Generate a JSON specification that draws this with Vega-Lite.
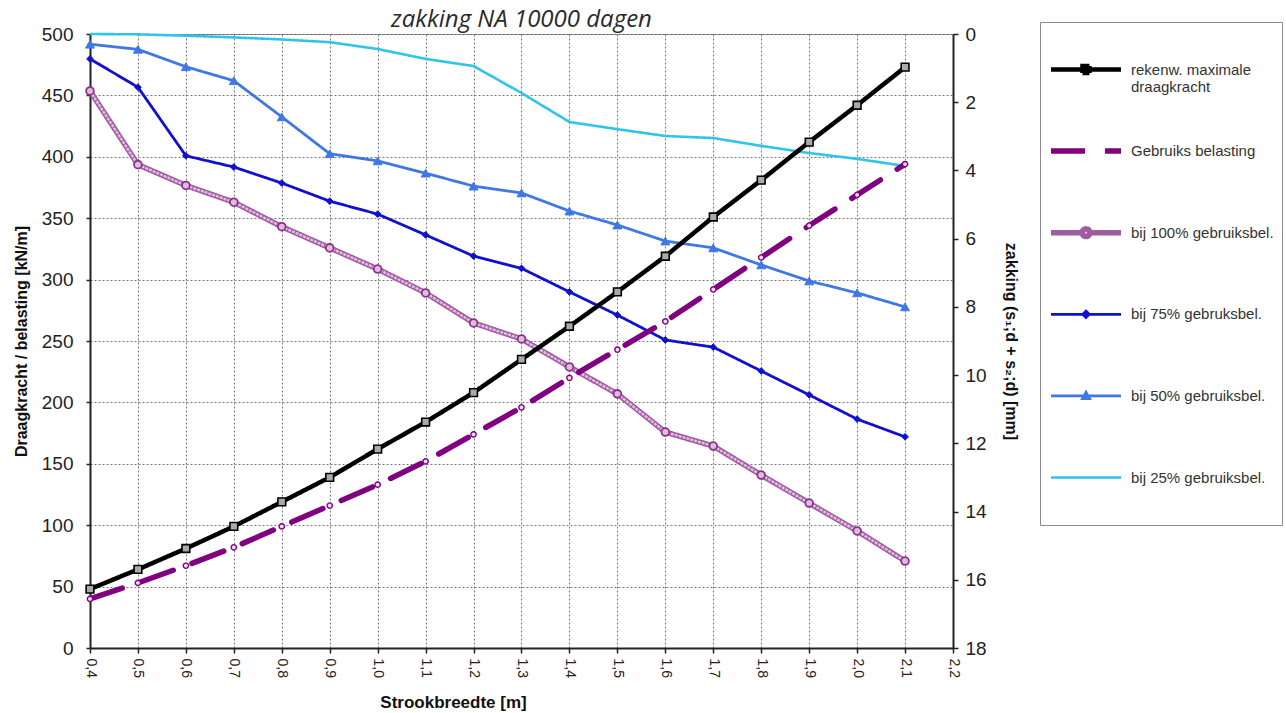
{
  "$schema": "https://vega.github.io/schema/vega-lite/v6.json",
  "width": 863,
  "height": 614,
  "autosize": {"type": "none"},
  "padding": {"left": 90, "top": 34, "right": 333, "bottom": 65},
  "background": "white",
  "title": {
    "text": "zakking NA 10000 dagen",
    "font": "Open Sans",
    "fontSize": 24,
    "fontStyle": "italic",
    "fontWeight": "normal",
    "color": "#2a2a2a",
    "anchor": "middle",
    "frame": "group",
    "offset": -10
  },
  "datasets": {
    "belasting": [
      {"breedte": 0.4, "reeks": "rekenw. maximale draagkracht", "waarde": 48},
      {"breedte": 0.5, "reeks": "rekenw. maximale draagkracht", "waarde": 64},
      {"breedte": 0.6, "reeks": "rekenw. maximale draagkracht", "waarde": 81},
      {"breedte": 0.7, "reeks": "rekenw. maximale draagkracht", "waarde": 99},
      {"breedte": 0.8, "reeks": "rekenw. maximale draagkracht", "waarde": 119},
      {"breedte": 0.9, "reeks": "rekenw. maximale draagkracht", "waarde": 139},
      {"breedte": 1.0, "reeks": "rekenw. maximale draagkracht", "waarde": 162},
      {"breedte": 1.1, "reeks": "rekenw. maximale draagkracht", "waarde": 184},
      {"breedte": 1.2, "reeks": "rekenw. maximale draagkracht", "waarde": 208},
      {"breedte": 1.3, "reeks": "rekenw. maximale draagkracht", "waarde": 235},
      {"breedte": 1.4, "reeks": "rekenw. maximale draagkracht", "waarde": 262},
      {"breedte": 1.5, "reeks": "rekenw. maximale draagkracht", "waarde": 290},
      {"breedte": 1.6, "reeks": "rekenw. maximale draagkracht", "waarde": 319},
      {"breedte": 1.7, "reeks": "rekenw. maximale draagkracht", "waarde": 351},
      {"breedte": 1.8, "reeks": "rekenw. maximale draagkracht", "waarde": 381},
      {"breedte": 1.9, "reeks": "rekenw. maximale draagkracht", "waarde": 412},
      {"breedte": 2.0, "reeks": "rekenw. maximale draagkracht", "waarde": 442},
      {"breedte": 2.1, "reeks": "rekenw. maximale draagkracht", "waarde": 473},
      {"breedte": 0.4, "reeks": "Gebruiks belasting", "waarde": 40},
      {"breedte": 0.5, "reeks": "Gebruiks belasting", "waarde": 53},
      {"breedte": 0.6, "reeks": "Gebruiks belasting", "waarde": 67},
      {"breedte": 0.7, "reeks": "Gebruiks belasting", "waarde": 82},
      {"breedte": 0.8, "reeks": "Gebruiks belasting", "waarde": 99},
      {"breedte": 0.9, "reeks": "Gebruiks belasting", "waarde": 116},
      {"breedte": 1.0, "reeks": "Gebruiks belasting", "waarde": 133},
      {"breedte": 1.1, "reeks": "Gebruiks belasting", "waarde": 152},
      {"breedte": 1.2, "reeks": "Gebruiks belasting", "waarde": 174},
      {"breedte": 1.3, "reeks": "Gebruiks belasting", "waarde": 196},
      {"breedte": 1.4, "reeks": "Gebruiks belasting", "waarde": 220},
      {"breedte": 1.5, "reeks": "Gebruiks belasting", "waarde": 243},
      {"breedte": 1.6, "reeks": "Gebruiks belasting", "waarde": 266},
      {"breedte": 1.7, "reeks": "Gebruiks belasting", "waarde": 292},
      {"breedte": 1.8, "reeks": "Gebruiks belasting", "waarde": 318},
      {"breedte": 1.9, "reeks": "Gebruiks belasting", "waarde": 344},
      {"breedte": 2.0, "reeks": "Gebruiks belasting", "waarde": 369},
      {"breedte": 2.1, "reeks": "Gebruiks belasting", "waarde": 394}
    ],
    "zakking": [
      {"breedte": 0.4, "reeks": "bij 100% gebruiksbel.", "waarde": 1.67},
      {"breedte": 0.5, "reeks": "bij 100% gebruiksbel.", "waarde": 3.83},
      {"breedte": 0.6, "reeks": "bij 100% gebruiksbel.", "waarde": 4.44},
      {"breedte": 0.7, "reeks": "bij 100% gebruiksbel.", "waarde": 4.93},
      {"breedte": 0.8, "reeks": "bij 100% gebruiksbel.", "waarde": 5.65},
      {"breedte": 0.9, "reeks": "bij 100% gebruiksbel.", "waarde": 6.27},
      {"breedte": 1.0, "reeks": "bij 100% gebruiksbel.", "waarde": 6.89},
      {"breedte": 1.1, "reeks": "bij 100% gebruiksbel.", "waarde": 7.59},
      {"breedte": 1.2, "reeks": "bij 100% gebruiksbel.", "waarde": 8.47},
      {"breedte": 1.3, "reeks": "bij 100% gebruiksbel.", "waarde": 8.94},
      {"breedte": 1.4, "reeks": "bij 100% gebruiksbel.", "waarde": 9.76},
      {"breedte": 1.5, "reeks": "bij 100% gebruiksbel.", "waarde": 10.55},
      {"breedte": 1.6, "reeks": "bij 100% gebruiksbel.", "waarde": 11.67},
      {"breedte": 1.7, "reeks": "bij 100% gebruiksbel.", "waarde": 12.08},
      {"breedte": 1.8, "reeks": "bij 100% gebruiksbel.", "waarde": 12.93},
      {"breedte": 1.9, "reeks": "bij 100% gebruiksbel.", "waarde": 13.75},
      {"breedte": 2.0, "reeks": "bij 100% gebruiksbel.", "waarde": 14.57},
      {"breedte": 2.1, "reeks": "bij 100% gebruiksbel.", "waarde": 15.45},
      {"breedte": 0.4, "reeks": "bij 75% gebruksbel.", "waarde": 0.73},
      {"breedte": 0.5, "reeks": "bij 75% gebruksbel.", "waarde": 1.56},
      {"breedte": 0.6, "reeks": "bij 75% gebruksbel.", "waarde": 3.57},
      {"breedte": 0.7, "reeks": "bij 75% gebruksbel.", "waarde": 3.9},
      {"breedte": 0.8, "reeks": "bij 75% gebruksbel.", "waarde": 4.37},
      {"breedte": 0.9, "reeks": "bij 75% gebruksbel.", "waarde": 4.9},
      {"breedte": 1.0, "reeks": "bij 75% gebruksbel.", "waarde": 5.28},
      {"breedte": 1.1, "reeks": "bij 75% gebruksbel.", "waarde": 5.89},
      {"breedte": 1.2, "reeks": "bij 75% gebruksbel.", "waarde": 6.51},
      {"breedte": 1.3, "reeks": "bij 75% gebruksbel.", "waarde": 6.87},
      {"breedte": 1.4, "reeks": "bij 75% gebruksbel.", "waarde": 7.56},
      {"breedte": 1.5, "reeks": "bij 75% gebruksbel.", "waarde": 8.24},
      {"breedte": 1.6, "reeks": "bij 75% gebruksbel.", "waarde": 8.97},
      {"breedte": 1.7, "reeks": "bij 75% gebruksbel.", "waarde": 9.18},
      {"breedte": 1.8, "reeks": "bij 75% gebruksbel.", "waarde": 9.88},
      {"breedte": 1.9, "reeks": "bij 75% gebruksbel.", "waarde": 10.58},
      {"breedte": 2.0, "reeks": "bij 75% gebruksbel.", "waarde": 11.29},
      {"breedte": 2.1, "reeks": "bij 75% gebruksbel.", "waarde": 11.81},
      {"breedte": 0.4, "reeks": "bij 50% gebruiksbel.", "waarde": 0.3},
      {"breedte": 0.5, "reeks": "bij 50% gebruiksbel.", "waarde": 0.45},
      {"breedte": 0.6, "reeks": "bij 50% gebruiksbel.", "waarde": 0.96},
      {"breedte": 0.7, "reeks": "bij 50% gebruiksbel.", "waarde": 1.37},
      {"breedte": 0.8, "reeks": "bij 50% gebruiksbel.", "waarde": 2.43},
      {"breedte": 0.9, "reeks": "bij 50% gebruiksbel.", "waarde": 3.51},
      {"breedte": 1.0, "reeks": "bij 50% gebruiksbel.", "waarde": 3.72},
      {"breedte": 1.1, "reeks": "bij 50% gebruiksbel.", "waarde": 4.08},
      {"breedte": 1.2, "reeks": "bij 50% gebruiksbel.", "waarde": 4.46},
      {"breedte": 1.3, "reeks": "bij 50% gebruiksbel.", "waarde": 4.66},
      {"breedte": 1.4, "reeks": "bij 50% gebruiksbel.", "waarde": 5.19},
      {"breedte": 1.5, "reeks": "bij 50% gebruiksbel.", "waarde": 5.6},
      {"breedte": 1.6, "reeks": "bij 50% gebruiksbel.", "waarde": 6.07},
      {"breedte": 1.7, "reeks": "bij 50% gebruiksbel.", "waarde": 6.27},
      {"breedte": 1.8, "reeks": "bij 50% gebruiksbel.", "waarde": 6.77},
      {"breedte": 1.9, "reeks": "bij 50% gebruiksbel.", "waarde": 7.24},
      {"breedte": 2.0, "reeks": "bij 50% gebruiksbel.", "waarde": 7.59},
      {"breedte": 2.1, "reeks": "bij 50% gebruiksbel.", "waarde": 8.0},
      {"breedte": 0.4, "reeks": "bij 25% gebruiksbel.", "waarde": 0.0},
      {"breedte": 0.5, "reeks": "bij 25% gebruiksbel.", "waarde": 0.01},
      {"breedte": 0.6, "reeks": "bij 25% gebruiksbel.", "waarde": 0.05},
      {"breedte": 0.7, "reeks": "bij 25% gebruiksbel.", "waarde": 0.1},
      {"breedte": 0.8, "reeks": "bij 25% gebruiksbel.", "waarde": 0.16},
      {"breedte": 0.9, "reeks": "bij 25% gebruiksbel.", "waarde": 0.24},
      {"breedte": 1.0, "reeks": "bij 25% gebruiksbel.", "waarde": 0.44},
      {"breedte": 1.1, "reeks": "bij 25% gebruiksbel.", "waarde": 0.73},
      {"breedte": 1.2, "reeks": "bij 25% gebruiksbel.", "waarde": 0.94},
      {"breedte": 1.3, "reeks": "bij 25% gebruiksbel.", "waarde": 1.73},
      {"breedte": 1.4, "reeks": "bij 25% gebruiksbel.", "waarde": 2.58},
      {"breedte": 1.5, "reeks": "bij 25% gebruiksbel.", "waarde": 2.79},
      {"breedte": 1.6, "reeks": "bij 25% gebruiksbel.", "waarde": 2.99},
      {"breedte": 1.7, "reeks": "bij 25% gebruiksbel.", "waarde": 3.05},
      {"breedte": 1.8, "reeks": "bij 25% gebruiksbel.", "waarde": 3.28},
      {"breedte": 1.9, "reeks": "bij 25% gebruiksbel.", "waarde": 3.49},
      {"breedte": 2.0, "reeks": "bij 25% gebruiksbel.", "waarde": 3.66},
      {"breedte": 2.1, "reeks": "bij 25% gebruiksbel.", "waarde": 3.87}
    ]
  },
  "config": {
    "font": "Liberation Sans",
    "view": {"stroke": "#9a9a9a", "strokeWidth": 1},
    "axis": {
      "labelFont": "Liberation Sans",
      "titleFont": "Liberation Sans",
      "titleFontWeight": "bold",
      "titleColor": "#111",
      "labelColor": "#222",
      "domainColor": "#222",
      "domainWidth": 2,
      "tickColor": "#222",
      "tickWidth": 1.5,
      "gridColor": "#555",
      "gridDash": [2, 2],
      "gridWidth": 0.8
    },
    "legend": {
      "orient": "none",
      "legendX": 950,
      "legendY": -12,
      "direction": "vertical",
      "fillColor": "white",
      "strokeColor": "#8c8c8c",
      "padding": 8,
      "symbolType": "stroke",
      "symbolSize": 4900,
      "labelFont": "Liberation Sans",
      "labelFontSize": 15,
      "labelColor": "#333",
      "labelOffset": 7,
      "labelLimit": 220,
      "clipHeight": 79,
      "rowPadding": 2.6
    }
  },
  "encoding": {
    "x": {
      "field": "breedte",
      "type": "quantitative",
      "scale": {"domain": [0.4, 2.2], "nice": false, "zero": false},
      "axis": {
        "values": [0.4, 0.5, 0.6, 0.7, 0.8, 0.9, 1.0, 1.1, 1.2, 1.3, 1.4, 1.5, 1.6, 1.7, 1.8, 1.9, 2.0, 2.1, 2.2],
        "labelExpr": "replace(format(datum.value, '.1f'), '.', ',')",
        "labelAngle": 90,
        "labelAlign": "left",
        "labelBaseline": "middle",
        "labelFontSize": 14,
        "labelPadding": 5,
        "tickSize": 5,
        "grid": true,
        "title": "Strookbreedte [m]",
        "titleFontSize": 17,
        "titlePadding": 17,
        "titleX": 363
      }
    }
  },
  "layer": [
    {
      "data": {"name": "zakking"},
      "encoding": {
        "y": {
          "field": "waarde",
          "type": "quantitative",
          "scale": {"domain": [0, 18], "reverse": true, "nice": false, "zero": false},
          "axis": {
            "orient": "right",
            "values": [0, 2, 4, 6, 8, 10, 12, 14, 16, 18],
            "grid": false,
            "labelFontSize": 19,
            "labelPadding": 7,
            "tickSize": 5,
            "title": "zakking (s₁;d + s₂;d) [mm]",
            "titleFontSize": 16,
            "titlePadding": 16
          }
        }
      },
      "layer": [
        {
          "mark": {"type": "line", "strokeCap": "butt"},
          "encoding": {
            "color": {
              "field": "reeks",
              "type": "nominal",
              "title": null,
              "scale": {
                "domain": ["rekenw. maximale draagkracht", "Gebruiks belasting", "bij 100% gebruiksbel.", "bij 75% gebruksbel.", "bij 50% gebruiksbel.", "bij 25% gebruiksbel."],
                "range": ["#000000", "#800080", "#a05ca0", "#1010d0", "#3f78e6", "#2fc4ec"]
              },
              "legend": {
                "title": null,
                "labelExpr": "datum.label == 'rekenw. maximale draagkracht' ? ['rekenw. maximale', 'draagkracht'] : datum.label",
                "encode": {
                  "symbols": {
                    "update": {
                      "shape": {"signal": "datum.value == 'rekenw. maximale draagkracht' ? 'M-1,0L1,0M-0.1,-0.1L0.1,-0.1L0.1,0.1L-0.1,0.1Z' : datum.value == 'bij 100% gebruiksbel.' ? 'M-1,0L-0.11,0M0.11,0L1,0M0.11,0A0.11,0.11,0,1,1,-0.11,0A0.11,0.11,0,1,1,0.11,0Z' : datum.value == 'bij 75% gebruksbel.' ? 'M-1,0L1,0M0,-0.09L0.09,0L0,0.09L-0.09,0Z' : datum.value == 'bij 50% gebruiksbel.' ? 'M-1,0L1,0M0,-0.1L0.1,0.08L-0.1,0.08Z' : 'M-1,0L1,0'"},
                      "fill": {"signal": "datum.value == 'rekenw. maximale draagkracht' ? '#555555' : datum.value == 'bij 100% gebruiksbel.' ? '#e3b8e3' : datum.value == 'bij 75% gebruksbel.' ? '#1010d0' : datum.value == 'bij 50% gebruiksbel.' ? '#3f78e6' : 'transparent'"}
                    }
                  }
                }
              }
            },
            "strokeDash": {
              "field": "reeks",
              "type": "nominal",
              "title": null,
              "scale": {
                "domain": ["rekenw. maximale draagkracht", "Gebruiks belasting", "bij 100% gebruiksbel.", "bij 75% gebruksbel.", "bij 50% gebruiksbel.", "bij 25% gebruiksbel."],
                "range": [[1, 0], [34, 20], [1, 0], [1, 0], [1, 0], [1, 0]]
              }
            },
            "strokeWidth": {
              "field": "reeks",
              "type": "nominal",
              "title": null,
              "scale": {
                "type": "ordinal",
                "domain": ["rekenw. maximale draagkracht", "Gebruiks belasting", "bij 100% gebruiksbel.", "bij 75% gebruksbel.", "bij 50% gebruiksbel.", "bij 25% gebruiksbel."],
                "range": [4.5, 5.5, 5.5, 2.8, 2.8, 2.6]
              }
            }
          }
        },
        {
          "transform": [{"filter": "datum.reeks == 'bij 100% gebruiksbel.'"}],
          "mark": {"type": "line", "color": "#e6bde6", "strokeWidth": 2.4, "strokeDash": [3, 1]},
          "encoding": {}
        },
        {
          "transform": [{"filter": "datum.reeks == 'bij 100% gebruiksbel.'"}],
          "mark": {"type": "point", "shape": "circle", "size": 60, "filled": true, "fill": "#e3b8e3", "stroke": "#863686", "strokeWidth": 1.8, "opacity": 1}
        },
        {
          "transform": [{"filter": "datum.reeks == 'bij 75% gebruksbel.'"}],
          "mark": {"type": "point", "shape": "diamond", "size": 45, "filled": true, "fill": "#1010d0", "stroke": "#1010d0", "strokeWidth": 1, "opacity": 1}
        },
        {
          "transform": [{"filter": "datum.reeks == 'bij 50% gebruiksbel.'"}],
          "mark": {"type": "point", "shape": "triangle-up", "size": 80, "filled": true, "fill": "#3f78e6", "stroke": "#3f78e6", "strokeWidth": 1, "opacity": 1}
        }
      ]
    },
    {
      "data": {"name": "belasting"},
      "encoding": {
        "y": {
          "field": "waarde",
          "type": "quantitative",
          "scale": {"domain": [0, 500], "nice": false, "zero": true},
          "axis": {
            "orient": "left",
            "values": [0, 50, 100, 150, 200, 250, 300, 350, 400, 450, 500],
            "grid": true,
            "labelFontSize": 19,
            "labelPadding": 13,
            "tickSize": 4,
            "title": "Draagkracht / belasting [kN/m]",
            "titleFontSize": 16,
            "titlePadding": 12
          }
        }
      },
      "layer": [
        {
          "mark": {"type": "line", "strokeCap": "round"},
          "encoding": {
            "color": {"field": "reeks", "type": "nominal", "title": null},
            "strokeDash": {"field": "reeks", "type": "nominal", "title": null},
            "strokeWidth": {"field": "reeks", "type": "nominal", "title": null, "scale": {"type": "ordinal"}}
          }
        },
        {
          "transform": [{"filter": "datum.reeks == 'rekenw. maximale draagkracht'"}],
          "mark": {"type": "point", "shape": "square", "size": 60, "filled": true, "fill": "#aaaaaa", "stroke": "#000000", "strokeWidth": 1.6, "opacity": 1}
        },
        {
          "transform": [{"filter": "datum.reeks == 'Gebruiks belasting'"}],
          "mark": {"type": "point", "shape": "circle", "size": 28, "filled": true, "fill": "#f2dcf2", "stroke": "#800080", "strokeWidth": 1.4, "opacity": 1}
        }
      ]
    }
  ],
  "resolve": {"scale": {"y": "independent"}}
}
